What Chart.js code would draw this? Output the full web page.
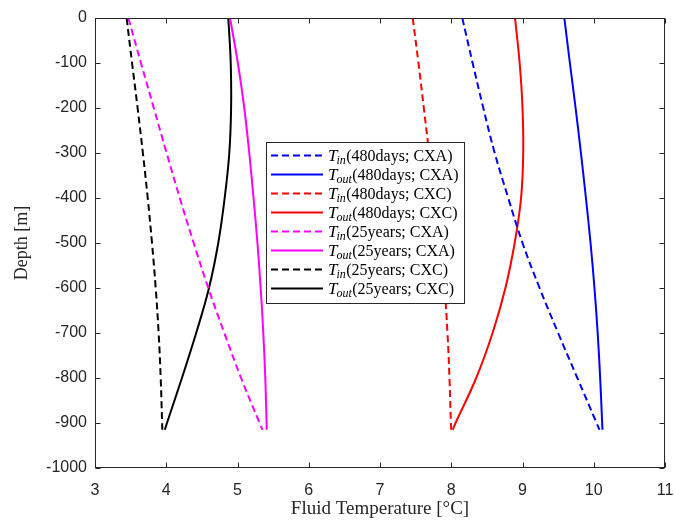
<!DOCTYPE html>
<html>
<head>
<meta charset="utf-8">
<script src="https://cdn.jsdelivr.net/npm/chart.js@4"></script>
<style>
  body { margin: 0; background: #fff; }
</style>
</head>
<body>
<canvas id="chart" width="675" height="520"></canvas>
<script>
// Depth points (m) shared by every curve
const depths = [0, -100, -200, -300, -400, -500, -600, -700, -800, -900, -915];

// Fluid temperatures (deg C)
const tinDaysCXA   = [8.155, 8.30, 8.45, 8.61, 8.80, 9.00, 9.24, 9.50, 9.77, 10.04, 10.08];
const toutDaysCXA  = [9.587, 9.665, 9.745, 9.82, 9.89, 9.955, 10.01, 10.055, 10.09, 10.118, 10.122];
const tinDaysCXC   = [7.459, 7.54, 7.615, 7.69, 7.765, 7.84, 7.905, 7.947, 7.975, 7.995, 8.0];
const toutDaysCXC  = [8.895, 8.96, 9.0, 9.01, 8.98, 8.89, 8.76, 8.58, 8.35, 8.06, 8.02];
const tinYearsCXA  = [3.468, 3.645, 3.825, 4.005, 4.19, 4.385, 4.59, 4.815, 5.05, 5.31, 5.35];
const toutYearsCXA = [4.895, 5.005, 5.095, 5.165, 5.225, 5.28, 5.325, 5.362, 5.39, 5.408, 5.41];
const tinYearsCXC  = [3.444, 3.52, 3.598, 3.672, 3.74, 3.80, 3.852, 3.893, 3.922, 3.942, 3.945];
const toutYearsCXC = [4.871, 4.905, 4.91, 4.885, 4.82, 4.73, 4.60, 4.42, 4.22, 4.01, 3.98];

// Legend text pieces
const subscripts = ['in', 'out', 'in', 'out', 'in', 'out', 'in', 'out'];
const cases = ['(480days; CXA)', '(480days; CXA)', '(480days; CXC)', '(480days; CXC)',
               '(25years; CXA)', '(25years; CXA)', '(25years; CXC)', '(25years; CXC)'];

const series = [tinDaysCXA, toutDaysCXA, tinDaysCXC, toutDaysCXC,
                tinYearsCXA, toutYearsCXA, tinYearsCXC, toutYearsCXC];
const colors = ['#0000ff', '#0000ff', '#ff0000', '#ff0000',
                '#ff00ff', '#ff00ff', '#000000', '#000000'];
const dashed = [true, false, true, false, true, false, true, false];

const axisColor = '#262626';
const serif = '"Liberation Serif", "DejaVu Serif", serif';
const sans = '"Liberation Sans", Arial, sans-serif';

// Build datasets from the arrays above
const datasets = series.map((temps, i) => ({
    label: 'T_' + subscripts[i] + cases[i],
    data: temps.map((t, j) => ({ x: t, y: depths[j] })),
    borderColor: colors[i],
    backgroundColor: colors[i],
    borderWidth: 2,
    borderDash: dashed[i] ? [7, 4] : [],
    showLine: true,
    pointRadius: 0,
    tension: 0.4
}));

// Box around the axes with inward ticks on all four sides
const framePlugin = {
    id: 'frame',
    afterDatasetsDraw(chart) {
        const { ctx, chartArea: a, scales } = chart;
        const L = Math.round(a.left) + 0.5, R = Math.round(a.right) - 0.5;
        const T = Math.round(a.top) + 0.5, B = Math.round(a.bottom) - 0.5;
        const len = 5;
        ctx.save();
        ctx.strokeStyle = axisColor;
        ctx.lineWidth = 1;
        ctx.setLineDash([]);
        ctx.strokeRect(L, T, R - L, B - T);
        ctx.beginPath();
        scales.x.ticks.forEach(t => {
            const px = Math.round(scales.x.getPixelForValue(t.value)) + 0.5;
            ctx.moveTo(px, B); ctx.lineTo(px, B - len);
            ctx.moveTo(px, T); ctx.lineTo(px, T + len);
        });
        scales.y.ticks.forEach(t => {
            const py = Math.round(scales.y.getPixelForValue(t.value)) + 0.5;
            ctx.moveTo(L, py); ctx.lineTo(L + len, py);
            ctx.moveTo(R, py); ctx.lineTo(R - len, py);
        });
        ctx.stroke();
        ctx.restore();
    }
};

// Legend box inside the plot, with subscripted labels
const legendPlugin = {
    id: 'boxLegend',
    afterDraw(chart) {
        const { ctx, chartArea: a } = chart;
        const left = a.left + 171, top = a.top + 124;
        const w = 198, h = 161, rowH = 19;
        ctx.save();
        ctx.fillStyle = '#fff';
        ctx.fillRect(left, top, w, h);
        ctx.strokeStyle = axisColor;
        ctx.lineWidth = 1;
        ctx.strokeRect(left + 0.5, top + 0.5, w, h);
        chart.data.datasets.forEach((ds, i) => {
            const y = top + 13.5 + i * rowH;
            ctx.strokeStyle = ds.borderColor;
            ctx.lineWidth = 2;
            ctx.setLineDash(ds.borderDash);
            ctx.beginPath();
            ctx.moveTo(left + 5, y);
            ctx.lineTo(left + 57, y);
            ctx.stroke();
            ctx.setLineDash([]);

            let x = left + 62;
            const base = y + 5.5;
            ctx.fillStyle = '#000';
            ctx.textBaseline = 'alphabetic';
            ctx.font = 'italic 17px ' + serif;
            ctx.fillText('T', x, base);
            x += ctx.measureText('T').width - 1;
            ctx.font = 'italic 12px ' + serif;
            ctx.fillText(subscripts[i], x, base + 3);
            x += ctx.measureText(subscripts[i]).width + 0.5;
            ctx.font = '16px ' + serif;
            ctx.fillText(cases[i], x, base);
        });
        ctx.restore();
    }
};

const chart = new Chart(document.getElementById('chart'), {
    type: 'scatter',
    data: { datasets: datasets },
    options: {
        responsive: false,
        animation: false,
        layout: { padding: { top: 18, right: 10, left: 0, bottom: 0 } },
        plugins: {
            legend: { display: false },
            tooltip: { enabled: false }
        },
        scales: {
            x: {
                type: 'linear',
                min: 3,
                max: 11,
                grid: { display: false, drawTicks: false },
                border: { display: false },
                ticks: {
                    stepSize: 1,
                    padding: 13,
                    color: axisColor,
                    font: { family: sans, size: 16 },
                    callback: v => String(v)
                },
                title: {
                    display: true,
                    text: 'Fluid Temperature [°C]',
                    color: axisColor,
                    font: { family: serif, size: 19 },
                    padding: { top: 0, bottom: 0 }
                },
                afterFit(scale) {
                    scale.height = 52;
                    scale.paddingLeft = 0;
                    scale.paddingRight = 0;
                }
            },
            y: {
                type: 'linear',
                min: -1000,
                max: 0,
                grid: { display: false, drawTicks: false },
                border: { display: false },
                ticks: {
                    stepSize: 100,
                    padding: 8,
                    color: axisColor,
                    font: { family: sans, size: 16 },
                    callback: v => String(v)
                },
                title: {
                    display: true,
                    text: 'Depth [m]',
                    color: axisColor,
                    font: { family: serif, size: 18 },
                    padding: { top: 11, bottom: 0 }
                },
                afterFit(scale) {
                    scale.width = 95;
                    scale.paddingTop = 0;
                    scale.paddingBottom = 0;
                }
            }
        }
    },
    plugins: [framePlugin, legendPlugin]
});
</script>
</body>
</html>
